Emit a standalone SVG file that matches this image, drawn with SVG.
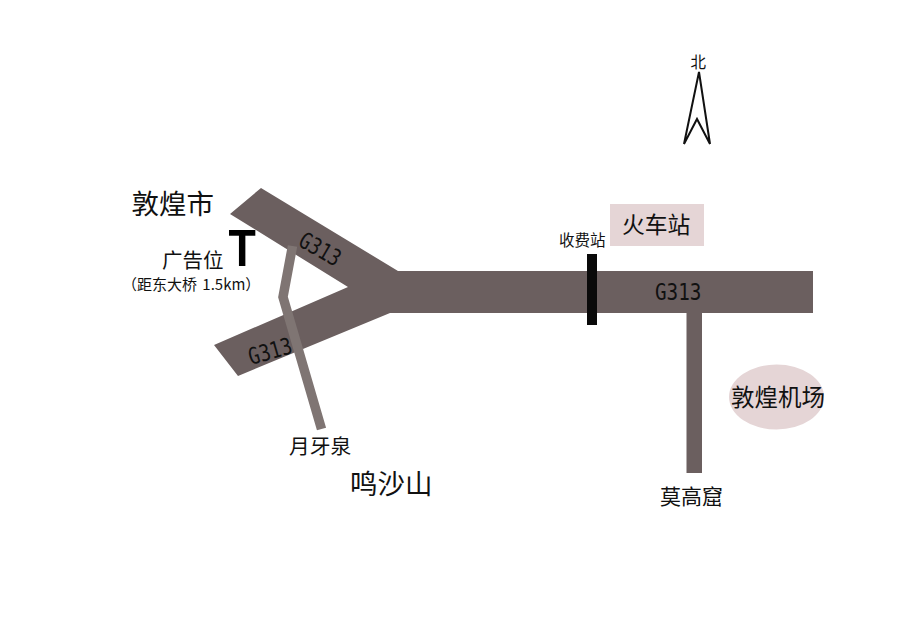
<svg xmlns="http://www.w3.org/2000/svg" width="900" height="636" viewBox="0 0 900 636">
<style>
text{font-family:"Noto Sans CJK SC","Liberation Sans",sans-serif;fill:#111}
.g{font-family:"DejaVu Sans Mono","Noto Sans CJK SC",monospace;font-size:23px}
.road{fill:#6b5f5f}
.pink{fill:#e5d5d6}
</style>
<rect width="900" height="636" fill="#fff"/>
<g id="connectors">
<polygon id="g313-main" class="road" points="230,214 261,188 398,271 813,271 813,313 390,313 238,376 214,345 348,287"/>
<rect id="mogao-road" class="road" x="686.500" y="313" width="15.500" height="160"/>
<polyline id="yueyaquan-road" points="292.500,246 283,297 321.500,429" fill="none" stroke="#7f7573" stroke-width="9.500"/>
</g>
<g id="toll"><rect x="587" y="254" width="10" height="71" fill="#0a0a0a"/><text x="559" y="246" font-size="15.500">收费站</text></g>
<g id="railway"><rect class="pink" x="610" y="204" width="94" height="42"/><text x="622" y="233" font-size="22.800">火车站</text></g>
<g id="airport"><ellipse class="pink" cx="776.500" cy="397" rx="47.500" ry="32.500"/><text x="731" y="406" font-size="23.500">敦煌机场</text></g>
<g id="dunhuang"><text x="131.500" y="214" font-size="27.500">敦煌市</text></g>
<g id="billboard">
<text transform="translate(228.500 266) scale(.86 1)" font-weight="700" font-size="52" style="font-family:'Liberation Sans',sans-serif;fill:#000">T</text>
<text x="162" y="268" font-size="20.500">广告位</text>
<text x="122" y="290" font-size="15" word-spacing="2">（距东大桥 1.5km）</text>
</g>
<g id="north"><polygon points="699,72 684,144 697,119 710,144" fill="#fff" stroke="#111" stroke-width="2"/><text x="690.500" y="68" font-size="15.500">北</text></g>
<g id="labels-g313">
<text class="g" transform="translate(297 245) rotate(30) scale(.8 1)">G313</text>
<text class="g" transform="translate(251 365) rotate(-16) scale(.8 1)">G313</text>
<text class="g" transform="translate(655 300) scale(.84 1)">G313</text>
</g>
<g id="yueyaquan"><text x="289" y="454" font-size="20.700">月牙泉</text></g>
<g id="mingsha"><text x="350" y="494" font-size="27.500">鸣沙山</text></g>
<g id="mogao"><text x="660" y="504" font-size="21">莫高窟</text></g>
</svg>
